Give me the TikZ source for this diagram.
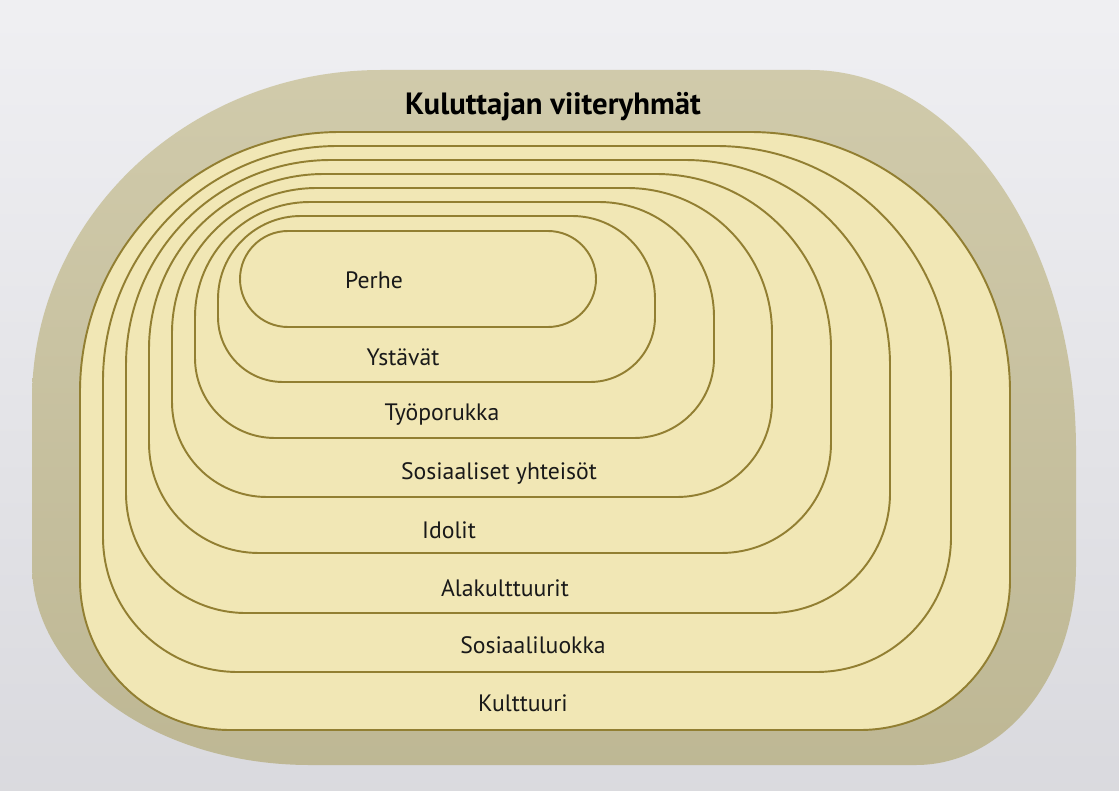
\documentclass[tikz,border=0pt]{standalone}
\usepackage{fontspec}
\setmainfont{PT Sans}
\usepackage{tikz}
\definecolor{page}{HTML}{E5E5EA}
\definecolor{khaki}{HTML}{C8C19C}
\definecolor{cream}{HTML}{F1E7B5}
\definecolor{goldline}{HTML}{927F32}

\begin{document}
\begin{tikzpicture}[x=0.2mm,y=0.2mm,
    ring/.style={fill=cream, draw=goldline, line width=1.1pt},
    lbl/.style={font=\fontsize{13.5}{16}\selectfont, text=black!90}]
  \useasboundingbox (0,0) rectangle (1119,790);
  \shade[top color=page!60!white, bottom color=page!95!black] (0,0) rectangle (1119,790);

  % outer shape
  \shade[top color=khaki!85!white, bottom color=khaki!95!black]
    (381,720) -- (810,720) arc[start angle=90,end angle=0,x radius=266,y radius=380]
    -- (1076,225) arc[start angle=0,end angle=-90,x radius=160,y radius=200]
    -- (310,25) arc[start angle=270,end angle=180,x radius=278,y radius=200]
    -- (32,390) arc[start angle=180,end angle=90,x radius=349,y radius=330] -- cycle;

  % rings, outermost first
  \foreach \l/\b/\r/\t/\rt/\rb in {80/60/1010/658/260/150, 103/118/951/644/235/135,
      126/177/890/630/205/120, 149/237/831/616/175/110, 172/293/772/602/145/95,
      195/352/714/588/115/80, 218/408/655/574/83/65, 240/463/596/559/48/48}
    \draw[ring] ({\l+\rt},\t) -- ({\r-\rt},\t) arc[start angle=90,end angle=0,radius=\rt]
      -- (\r,{\b+\rb}) arc[start angle=0,end angle=-90,radius=\rb]
      -- ({\l+\rb},\b) arc[start angle=270,end angle=180,radius=\rb]
      -- (\l,{\t-\rt}) arc[start angle=180,end angle=90,radius=\rt] -- cycle;

  \node[font=\bfseries\fontsize{17.5}{20}\selectfont, text=black] (title) at (553,683) {Kuluttajan viiteryhmät};
  \node[lbl] (perhe) at (374,510) {Perhe};
  \node[lbl] (ystavat) at (403,433) {Ystävät};
  \node[lbl] (tyo) at (442,375) {Työporukka};
  \node[lbl] (sosyht) at (499,317) {Sosiaaliset yhteisöt};
  \node[lbl] (idolit) at (449,260) {Idolit};
  \node[lbl] (alakult) at (505,202) {Alakulttuurit};
  \node[lbl] (sosluokka) at (533,145) {Sosiaaliluokka};
  \node[lbl] (kult) at (523,87) {Kulttuuri};
\end{tikzpicture}
\end{document}
